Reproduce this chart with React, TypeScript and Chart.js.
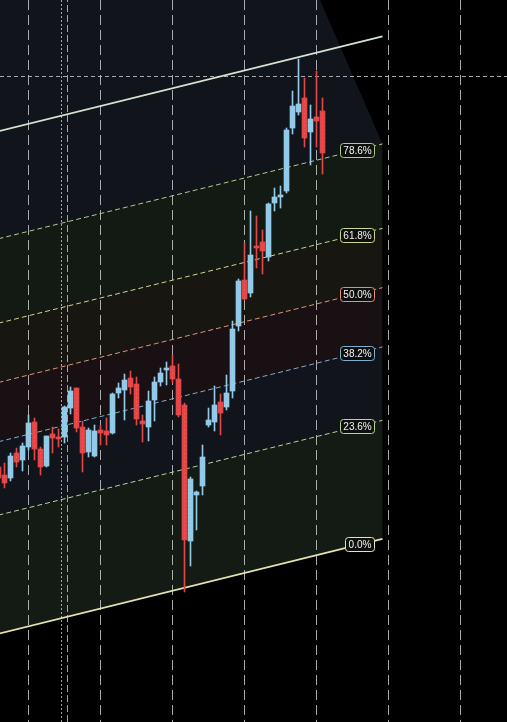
import React, { useEffect, useRef } from 'react';
import { Chart, registerables } from 'chart.js';

Chart.register(...registerables);

// ---- candle data (bar index, OHLC) ----
const candleIndex = [0,1,2,3,4,5,6,7,8,9,10,11,12,13,14,15,16,17,18,19,20,21,22,23,24,25,26,27,28,29,30,31,32,33,34,35,36,37,38,39,40,41,42,43,44,45,46,47,48,49,50,51,52,53,54];
const opens = [25.5,24.7,24.4,26.9,26.2,27.5,30.0,27.3,25.6,28.8,28.5,28.5,31.4,33.4,29.5,27.0,26.6,29.2,29.1,28.9,32.9,33.2,34.4,33.8,30.1,29.5,32.2,34.0,35.2,35.6,34.3,31.7,18.1,22.7,23.6,29.7,30.0,32.0,31.5,33.1,39.6,44.2,42.9,47.6,48.0,46.5,51.9,52.5,53.1,59.4,61.0,62.4,59.0,60.5,61.1];
const highs = [26.2,25.9,26.9,27.4,27.9,30.7,30.4,27.5,28.6,29.5,29.3,31.6,33.5,33.4,30.1,29.4,29.7,29.7,30.4,32.9,33.9,34.8,35.1,34.5,30.7,33.1,34.5,35.4,36.0,36.7,35.8,31.9,24.5,23.1,27.7,31.4,33.6,32.8,34.7,40.1,44.3,47.9,51.1,50.6,49.2,51.9,53.4,53.6,59.4,63.1,66.3,64.4,61.7,65.1,62.4];
const lows = [23.6,23.4,24.1,25.5,25.1,27.2,26.2,24.7,25.5,26.9,27.5,27.9,30.8,29.0,25.0,26.5,26.5,27.7,27.7,28.8,32.4,30.2,32.8,29.7,28.0,28.1,30.1,33.6,33.7,33.9,30.5,13.0,15.6,19.2,22.7,29.5,29.1,28.7,31.2,32.4,39.1,42.2,42.5,45.4,44.8,46.1,51.1,51.4,52.9,58.8,60.7,57.5,55.7,57.5,54.8];
const closes = [24.4,23.9,26.6,26.0,27.6,29.9,27.3,25.5,28.6,28.4,28.3,31.5,33.1,29.4,26.9,29.2,29.1,28.9,28.7,32.8,33.4,34.2,33.5,30.3,29.8,32.1,34.0,34.9,35.4,34.3,30.7,18.2,24.3,23.0,26.5,30.2,31.7,30.9,32.9,39.3,44.1,42.3,46.7,47.4,47.1,51.8,52.5,52.7,59.2,61.6,61.8,58.4,60.3,60.1,56.9];

// ---- axes / markers ----
const xRange = [0.25, 84.75];
const yRange = [0, 72.2];
const gridIndices = [5, 17, 29, 41, 53, 65, 77];
const markerIndices = [10.5, 11.5];
const priceLine = 64.5;

// ---- Fibonacci channel ----
const channelStartIndex = 0;
const channelStartPrice = 8.83;
const channelEndIndex = 64;
const channelEndPrice = 18.31;
const channelHeight = 50.25;
const fibLevels = [0, 0.236, 0.382, 0.5, 0.618, 0.786, 1];
const fibLabelText = ['0.0%', '23.6%', '38.2%', '50.0%', '61.8%', '78.6%', ''];
const shadeApexIndex = 53.6;

const UP = '#92c9e6';
const DOWN = '#e24646';
const levelColors = ['#e8e4b0', '#b4d894', '#7eaed0', '#e0907c', '#ccd890', '#aacc8c', '#d4e4d4'];
const bandFills = [
  'rgba(167,217,167,0.12)',
  'rgba(142,167,217,0.12)',
  'rgba(215,150,170,0.11)',
  'rgba(217,200,150,0.11)',
  'rgba(158,208,158,0.12)',
];
const topShade = 'rgba(142,167,217,0.12)';

function levelPrice(level: number, idx: number) {
  const t = (idx - channelStartIndex) / (channelEndIndex - channelStartIndex);
  return channelStartPrice + (channelEndPrice - channelStartPrice) * t + level * channelHeight;
}

function makePattern(base: string, dot: string) {
  const c = document.createElement('canvas');
  c.width = 6;
  c.height = 4;
  const g = c.getContext('2d')!;
  g.fillStyle = base;
  g.fillRect(0, 0, 6, 4);
  g.fillStyle = dot;
  g.fillRect(4, 1, 1, 1);
  return g.createPattern(c, 'repeat');
}

const fibLabelPlugin = {
  id: 'fibLabels',
  afterDatasetsDraw(chart: any) {
    const { ctx, scales } = chart;
    const x = scales.x;
    const y = scales.y;
    ctx.save();
    ctx.font = '10px "Liberation Sans", Arial, sans-serif';
    ctx.textBaseline = 'middle';
    ctx.textAlign = 'center';
    fibLevels.forEach((lv, k) => {
      const text = fibLabelText[k];
      if (!text) return;
      const right = Math.round(x.getPixelForValue(channelEndIndex) - 9) + 0.5;
      const w = Math.round(ctx.measureText(text).width + 6);
      const cx = right - w / 2;
      const price = levelPrice(lv, x.getValueForPixel(cx));
      const cy = Math.round(y.getPixelForValue(price));
      ctx.beginPath();
      ctx.roundRect(right - w, cy - 7 + 0.5, w, 14, 3);
      ctx.fillStyle = 'rgba(14,16,14,0.96)';
      ctx.fill();
      ctx.lineWidth = 1;
      ctx.strokeStyle = levelColors[k];
      ctx.stroke();
      ctx.fillStyle = '#f2f2f2';
      ctx.fillText(text, cx, cy + 1);
    });
    ctx.restore();
  },
};

export default function App() {
  const ref = useRef<HTMLCanvasElement>(null);

  useEffect(() => {
    document.body.style.margin = '0';
    document.body.style.background = '#000';
    const canvas = ref.current!;
    const upPat = makePattern(UP, '#b0cfc0') || UP;
    const downPat = makePattern(DOWN, '#c87070') || DOWN;

    const isUp = candleIndex.map((i) => closes[i] >= opens[i]);
    const wickData = candleIndex.map((i) => ({ x: i, y: [lows[i], highs[i]] }));
    const bodyData = candleIndex.map((i) => ({ x: i, y: [opens[i], closes[i]] }));

    const datasets: any[] = [];

    // top shaded region above 78.6%
    datasets.push({
      type: 'line',
      data: [
        { x: channelStartIndex, y: levelPrice(0.786, channelStartIndex) },
        { x: channelEndIndex, y: levelPrice(0.786, channelEndIndex) },
        { x: shadeApexIndex, y: yRange[1] },
        { x: channelStartIndex, y: yRange[1] },
      ],
      borderWidth: 0,
      borderColor: 'rgba(0,0,0,0)',
      backgroundColor: topShade,
      fill: 'shape',
      pointRadius: 0,
      order: 20,
    });

    const levelStart = datasets.length;
    fibLevels.forEach((lv, k) => {
      const solid = lv === 0 || lv === 1;
      datasets.push({
        type: 'line',
        data: [
          { x: channelStartIndex, y: levelPrice(lv, channelStartIndex) },
          { x: channelEndIndex, y: levelPrice(lv, channelEndIndex) },
        ],
        borderColor: levelColors[k],
        borderWidth: solid ? 1.6 : 1,
        borderDash: solid ? [] : [5, 3],
        pointRadius: 0,
        backgroundColor: k > 0 && k < 6 ? bandFills[k - 1] : 'rgba(0,0,0,0)',
        fill: k > 0 && k < 6 ? { target: levelStart + k - 1 } : false,
        order: 10 - k * 0.1,
      });
    });

    markerIndices.forEach((m, k) => {
      datasets.push({
        type: 'line',
        data: [
          { x: m, y: yRange[0] },
          { x: m, y: yRange[1] },
        ],
        borderColor: 'rgba(190,190,190,0.85)',
        borderWidth: 1,
        borderDash: k === 0 ? [2, 2] : [7, 3],
        pointRadius: 0,
        fill: false,
        order: 15,
      });
    });

    datasets.push({
      type: 'bar',
      data: wickData,
      backgroundColor: isUp.map((u) => (u ? UP : DOWN)),
      barThickness: 1,
      grouped: false,
      borderWidth: 0,
      order: 2,
    });
    datasets.push({
      type: 'bar',
      data: bodyData,
      backgroundColor: isUp.map((u) => (u ? upPat : downPat)),
      barThickness: 5,
      grouped: false,
      borderWidth: 0,
      order: 1,
    });

    const chart = new Chart(canvas, {
      type: 'bar',
      data: { datasets },
      options: {
        animation: false,
        responsive: false,
        devicePixelRatio: 1,
        layout: { padding: 0 },
        plugins: { legend: { display: false }, tooltip: { enabled: false } },
        scales: {
          x: {
            type: 'linear',
            offset: false,
            min: xRange[0],
            max: xRange[1],
            ticks: { display: false },
            grid: { offset: false, color: 'rgba(200,200,200,0.85)', lineWidth: 1, drawTicks: false },
            border: { display: false, dash: [10, 5] },
            afterBuildTicks: (axis: any) => {
              axis.ticks = gridIndices.map((v) => ({ value: v }));
            },
          },
          y: {
            type: 'linear',
            min: yRange[0],
            max: yRange[1],
            ticks: { display: false },
            grid: { color: 'rgba(200,200,200,0.85)', lineWidth: 1, drawTicks: false },
            border: { display: false, dash: [4, 3] },
            afterBuildTicks: (axis: any) => {
              axis.ticks = [{ value: priceLine }];
            },
          },
        },
      } as any,
      plugins: [fibLabelPlugin],
    });
    return () => chart.destroy();
  }, []);

  return (
    <div style={{ width: 507, height: 722, background: '#000' }}>
      <canvas ref={ref} width={507} height={722} style={{ display: 'block', background: '#000' }} />
    </div>
  );
}
